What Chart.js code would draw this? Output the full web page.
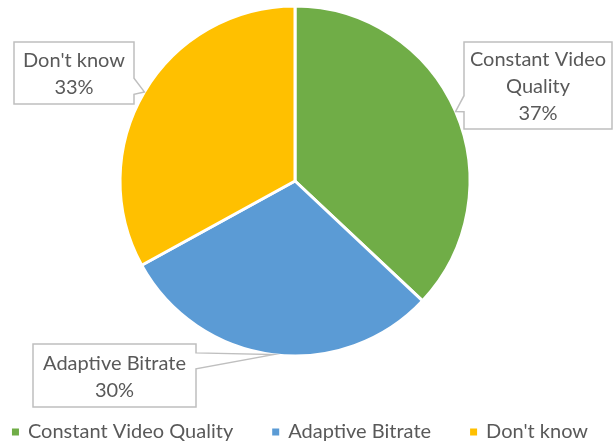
<!DOCTYPE html>
<html>
<head>
<meta charset="utf-8">
<script src="https://cdn.jsdelivr.net/npm/chart.js@4/dist/chart.umd.min.js"></script>
<style>
  html, body { margin: 0; padding: 0; background: #fff; }
  #wrap { position: relative; width: 614px; height: 445px; }
</style>
</head>
<body>
<div id="wrap"><canvas id="pie"></canvas></div>
<script>
const categories = ["Constant Video Quality", "Adaptive Bitrate", "Don't know"];
const shares = [37, 30, 33];
const sliceColors = ["#70AD47", "#5B9BD5", "#FFC000"];

const FONT = "Lato, 'Open Sans', sans-serif";
const TEXT = "#595959";

// callout boxes, one per slice, in canvas pixels
const calloutBoxes = [
  { x: 464, y: 42, w: 148, h: 87 },
  { x: 33, y: 344, w: 163, h: 63 },
  { x: 14, y: 42, w: 120, h: 62 }
];

function wrapWords(ctx, text, maxWidth) {
  const words = text.split(" ");
  const lines = [];
  let line = "";
  for (const w of words) {
    const test = line ? line + " " + w : w;
    if (line && ctx.measureText(test).width > maxWidth) {
      lines.push(line);
      line = w;
    } else {
      line = test;
    }
  }
  if (line) lines.push(line);
  return lines;
}

const calloutPlugin = {
  id: "callouts",
  afterDatasetsDraw(chart) {
    const ctx = chart.ctx;
    const meta = chart.getDatasetMeta(0);
    const total = shares.reduce((a, b) => a + b, 0);
    ctx.save();
    ctx.font = "20px " + FONT;
    meta.data.forEach((arc, i) => {
      const box = calloutBoxes[i];
      const p = arc.getProps(["x", "y", "startAngle", "endAngle", "outerRadius"], true);
      const mid = (p.startAngle + p.endAngle) / 2;
      const tipX = p.x + Math.cos(mid) * p.outerRadius;
      const tipY = p.y + Math.sin(mid) * p.outerRadius;

      // wedge base sits on the box side that faces the slice
      const half = 8;
      let base = tipY + (box.y + box.h / 2 - tipY) * 0.3;
      base = Math.min(Math.max(base, box.y + half), box.y + box.h - half);
      const onLeft = tipX < box.x;
      const sideX = onLeft ? box.x : box.x + box.w;

      ctx.beginPath();
      ctx.moveTo(box.x, box.y);
      ctx.lineTo(box.x + box.w, box.y);
      if (!onLeft) {
        ctx.lineTo(sideX, base - half);
        ctx.lineTo(tipX, tipY);
        ctx.lineTo(sideX, base + half);
      }
      ctx.lineTo(box.x + box.w, box.y + box.h);
      ctx.lineTo(box.x, box.y + box.h);
      if (onLeft) {
        ctx.lineTo(sideX, base + half);
        ctx.lineTo(tipX, tipY);
        ctx.lineTo(sideX, base - half);
      }
      ctx.closePath();
      ctx.fillStyle = "#ffffff";
      ctx.fill();
      ctx.strokeStyle = "#BFBFBF";
      ctx.lineWidth = 1.5;
      ctx.stroke();

      const lines = wrapWords(ctx, categories[i], box.w - 10);
      lines.push(Math.round(shares[i] / total * 100) + "%");
      const lh = 27;
      const cy = box.y + box.h / 2 + 1.5;
      ctx.fillStyle = TEXT;
      ctx.textAlign = "center";
      ctx.textBaseline = "middle";
      lines.forEach((ln, k) => {
        ctx.fillText(ln, box.x + box.w / 2, cy + (k - (lines.length - 1) / 2) * lh);
      });
    });
    ctx.restore();
  }
};

// one-row legend along the bottom edge, square swatches
const bottomLegend = {
  id: "bottomLegend",
  afterDraw(chart, args, opts) {
    const ctx = chart.ctx;
    const labels = chart.data.labels;
    const colors = chart.data.datasets[0].backgroundColor;
    ctx.save();
    ctx.font = opts.size + "px " + FONT;
    const widths = labels.map(t => ctx.measureText(t).width);
    const itemW = widths.map(w => opts.box + opts.gap + w);
    const total = itemW.reduce((a, b) => a + b, 0) + opts.spacing * (labels.length - 1);
    let x = opts.centerX - total / 2;
    ctx.textBaseline = "middle";
    ctx.textAlign = "left";
    labels.forEach((t, i) => {
      ctx.fillStyle = colors[i];
      ctx.fillRect(x, opts.y - opts.box / 2, opts.box, opts.box);
      ctx.fillStyle = TEXT;
      ctx.fillText(t, x + opts.box + opts.gap, opts.y);
      x += itemW[i] + opts.spacing;
    });
    ctx.restore();
  }
};

new Chart(document.getElementById("pie"), {
  type: "pie",
  data: {
    labels: categories,
    datasets: [{
      data: shares,
      backgroundColor: sliceColors,
      borderColor: "#ffffff",
      borderWidth: 3,
      radius: 175
    }]
  },
  options: {
    responsive: true,
    maintainAspectRatio: false,
    animation: false,
    layout: { padding: { top: 0, left: 0, right: 24, bottom: 83 } },
    plugins: {
      tooltip: { enabled: false },
      legend: { display: false },
      bottomLegend: { size: 20, box: 7, gap: 9, spacing: 39, centerX: 300, y: 432 }
    }
  },
  plugins: [calloutPlugin, bottomLegend]
});
</script>
</body>
</html>
